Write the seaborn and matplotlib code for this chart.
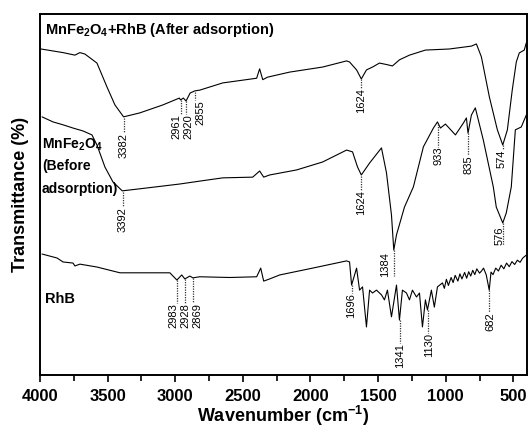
import matplotlib
matplotlib.use('Agg')
import numpy as np
import pandas as pd
import matplotlib.pyplot as plt
import seaborn as sns
from matplotlib.ticker import MultipleLocator

# spectra (wavenumber in cm-1, transmittance in %, curves already offset as in the figure)
after_wn = [3993, 3830, 3742, 3705, 3668, 3579, 3505, 3446, 3382, 3262,
            3092, 2970, 2961, 2940, 2920, 2890, 2855, 2819, 2649, 2398,
            2376, 2353, 2317, 2154, 1910, 1733, 1711, 1659, 1624, 1586,
            1541, 1490, 1438, 1394, 1342, 1268, 1150, 973, 810, 773,
            736, 677, 618, 578, 544, 508, 478, 456, 419, 404]
after_t = [90.3, 89.3, 88.6, 89.3, 88.9, 86.4, 79.8, 74.8, 71.5, 72.6,
           74.8, 76.7, 76.2, 76.7, 75.9, 78.1, 78.7, 78.9, 80.9, 82.2,
           84.8, 81.8, 82.5, 83.9, 85.3, 87.0, 86.7, 84.5, 82.0, 84.5,
           85.3, 86.4, 86.0, 85.6, 87.3, 88.6, 90.0, 90.3, 91.1, 91.7,
           88.1, 77.0, 67.9, 63.7, 67.9, 78.9, 86.7, 89.2, 90.0, 92.0]

before_wn = [3985, 3904, 3830, 3756, 3683, 3616, 3579, 3520, 3461, 3392,
             3210, 2966, 2819, 2649, 2427, 2376, 2346, 2302, 2102, 1910,
             1733, 1689, 1652, 1624, 1563, 1475, 1438, 1401, 1384, 1364,
             1305, 1239, 1165, 1091, 1061, 1039, 1002, 928, 869, 847,
             835, 810, 781, 722, 648, 626, 578, 552, 515, 485,
             441, 404]
before_t = [71.5, 70.1, 69.3, 68.4, 67.6, 66.5, 63.7, 57.6, 53.5, 51.0,
            51.8, 52.9, 53.7, 54.6, 54.8, 56.5, 54.8, 55.4, 56.8, 59.0,
            62.3, 61.8, 57.6, 55.4, 58.7, 62.9, 56.0, 44.3, 34.6, 38.8,
            46.5, 52.1, 63.2, 68.4, 70.1, 68.4, 69.5, 66.5, 69.8, 71.2,
            67.0, 72.0, 74.0, 65.1, 52.1, 46.5, 42.1, 44.9, 52.1, 67.9,
            68.7, 72.0]

rhb_wn = [3985, 3874, 3830, 3756, 3742, 3705, 3579, 3409, 3262, 3040,
          2988, 2952, 2929, 2892, 2870, 2819, 2597, 2398, 2368, 2346,
          2302, 2228, 1984, 1733, 1711, 1696, 1659, 1637, 1615, 1586,
          1563, 1541, 1512, 1475, 1453, 1431, 1401, 1364, 1342, 1320,
          1290, 1268, 1246, 1216, 1194, 1172, 1150, 1135, 1106, 1084,
          1061, 1024, 1010, 995, 980, 960, 945, 930, 910, 895,
          880, 860, 845, 830, 815, 800, 785, 770, 750, 735,
          720, 700, 678, 665, 650, 630, 610, 590, 570, 550,
          530, 510, 490, 470, 450, 430, 404]
rhb_t = [33.5, 32.4, 31.3, 31.0, 30.2, 30.7, 29.9, 28.3, 28.3, 28.3,
         26.3, 27.7, 26.6, 27.4, 26.9, 27.2, 27.0, 27.2, 29.6, 26.0,
         26.6, 27.7, 29.6, 31.6, 31.3, 24.9, 29.6, 23.5, 24.4, 13.3,
         23.5, 22.7, 23.5, 22.2, 20.8, 23.5, 16.1, 24.9, 15.2, 23.5,
         22.7, 20.8, 23.5, 21.6, 22.7, 13.3, 20.8, 18.0, 23.5, 18.8,
         24.4, 25.5, 24.0, 26.5, 24.8, 27.0, 25.6, 27.6, 26.0, 28.0,
         26.6, 28.4, 26.8, 28.6, 27.4, 29.0, 27.8, 29.4, 28.2, 28.8,
         29.6, 27.7, 23.5, 28.5, 27.8, 29.6, 28.8, 30.4, 29.4, 31.0,
         30.0, 31.4, 30.6, 31.8, 31.2, 32.4, 33.2]

# peak labels: text, line x, line top, line bottom, text x, text top
peaks = [
    ('3382', 3380, 71.2, 67.0, 3380, 67.0),
    ('2961', 2961, 76.2, 72.3, 2990, 72.3),
    ('2920', 2918, 75.9, 72.3, 2902, 72.3),
    ('2855', 2855, 78.4, 76.2, 2815, 76.2),
    ('1624', 1624, 82.0, 79.5, 1624, 79.5),
    ('574', 574, 63.7, 62.3, 590, 62.3),
    ('3392', 3390, 50.7, 46.5, 3390, 46.5),
    ('1624', 1624, 55.1, 51.2, 1624, 51.2),
    ('1384', 1379, 34.6, 27.4, 1445, 34.1),
    ('933', 1054, 69.5, 63.2, 1054, 63.2),
    ('835', 832, 67.0, 60.9, 832, 60.9),
    ('576', 574, 42.1, 36.0, 600, 41.0),
    ('2983', 2990, 26.3, 19.9, 3015, 19.9),
    ('2928', 2925, 26.6, 19.9, 2927, 19.9),
    ('2869', 2868, 26.9, 19.9, 2839, 19.9),
    ('1696', 1696, 24.9, 22.7, 1696, 22.7),
    ('1341', 1341, 15.2, 8.9, 1334, 8.9),
    ('1130', 1130, 18.0, 11.6, 1120, 11.6),
    ('682', 678, 23.5, 17.5, 670, 17.5),
]

df = pd.concat([
    pd.DataFrame({'wn': after_wn, 't': after_t, 'sample': 'after'}),
    pd.DataFrame({'wn': before_wn, 't': before_t, 'sample': 'before'}),
    pd.DataFrame({'wn': rhb_wn, 't': rhb_t, 'sample': 'rhb'}),
], ignore_index=True)

sns.set_style('ticks')
plt.rcParams['font.family'] = ['Liberation Sans', 'DejaVu Sans']
plt.rcParams['mathtext.fontset'] = 'custom'
plt.rcParams['mathtext.rm'] = 'Liberation Sans'
plt.rcParams['mathtext.bf'] = 'Liberation Sans:bold'
plt.rcParams['mathtext.it'] = 'Liberation Sans:italic'
plt.rcParams['text.color'] = 'black'
plt.rcParams['axes.labelcolor'] = 'black'
plt.rcParams['xtick.color'] = 'black'
plt.rcParams['axes.edgecolor'] = 'black'

fig = plt.figure(figsize=(5.28, 4.30), dpi=100)
ax = fig.add_axes([0.0758, 0.128, 0.922, 0.8395])

sns.lineplot(data=df, x='wn', y='t', hue='sample', units='sample', estimator=None,
             palette={'after': 'black', 'before': 'black', 'rhb': 'black'},
             linewidth=0.8, legend=False, ax=ax)

for txt, lx, y0, y1, tx, ty in peaks:
    ax.plot([lx, lx], [y0, y1], linestyle=(0, (1, 1)), color='#333333', linewidth=0.9)
    ax.text(tx, ty, txt, rotation=90, ha='center', va='top', fontsize=8)

ax.text(3965, 95.6, r'MnFe$_\mathbf{2}$O$_\mathbf{4}$+RhB (After adsorption)',
        fontsize=10.5, fontweight='bold', va='center', ha='left')
ax.text(3985, 63.7, r'MnFe$_\mathbf{2}$O$_\mathbf{4}$', fontsize=10, fontweight='bold', va='center', ha='left')
ax.text(3985, 57.9, '(Before', fontsize=10, fontweight='bold', va='center', ha='left')
ax.text(3985, 51.5, 'adsorption)', fontsize=10, fontweight='bold', va='center', ha='left')
ax.text(3965, 21.1, 'RhB', fontsize=10.5, fontweight='bold', va='center', ha='left')

ax.set_xlim(4000, 400)
ax.set_ylim(0, 100)
ax.xaxis.set_major_locator(MultipleLocator(500))
ax.xaxis.set_minor_locator(MultipleLocator(250))
ax.set_yticks([])
ax.tick_params(axis='x', which='major', direction='out', length=5, width=1.2,
               labelsize=12, pad=5)
ax.tick_params(axis='x', which='minor', direction='out', length=4, width=1.2)
for lab in ax.get_xticklabels():
    lab.set_fontweight('bold')
for sp in ax.spines.values():
    sp.set_visible(True)
    sp.set_linewidth(1.4)

ax.set_xlabel(r'Wavenumber (cm$^\mathbf{-1}$)', fontsize=13, fontweight='bold', labelpad=0)
ax.set_ylabel('Transmittance (%)', fontsize=13, fontweight='bold', labelpad=8)

fig.savefig('out.png', dpi=100)
